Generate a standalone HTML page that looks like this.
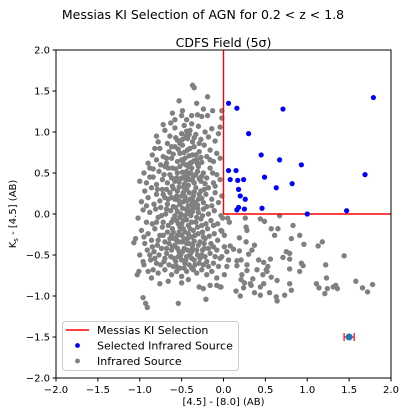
<!DOCTYPE html>
<html><head><meta charset="utf-8"><style>
body{margin:0;background:#fff;font-family:"Liberation Sans","DejaVu Sans",sans-serif}
svg text{font-family:"DejaVu Sans","Liberation Sans",sans-serif}
</style></head><body>
<svg id="chart" width="406" height="414" xmlns="http://www.w3.org/2000/svg"></svg>
<script>
const xTicks=[-2,-1.5,-1,-0.5,0,0.5,1,1.5,2];
const yTicks=[-2,-1.5,-1,-0.5,0,0.5,1,1.5,2];
const xTickLabels=["\u22122.0","\u22121.5","\u22121.0","\u22120.5","0.0","0.5","1.0","1.5","2.0"];
const yTickLabels=["\u22122.0","\u22121.5","\u22121.0","\u22120.5","0.0","0.5","1.0","1.5","2.0"];
const selX=[0.06,0.16,0.71,1.79,0.30,0.45,0.67,0.93,1.69,0.06,0.15,0.08,0.17,0.24,0.49,0.82,0.63,0.18,0.20,0.26,0.16,0.18,0.25,0.46,1.47,1.00];
const selY=[1.35,1.29,1.28,1.42,0.98,0.72,0.66,0.60,0.48,0.53,0.53,0.42,0.41,0.42,0.45,0.37,0.32,0.30,0.22,0.18,0.05,0.08,0.06,0.07,0.04,0.00];
const grayPts=[
[-0.01,-0.05],[0.05,-0.05],[0.07,-0.10],[0.26,-0.05],[0.44,-0.06],[0.49,-0.09],[0.67,-0.02],[0.27,-0.16],[0.28,-0.20],[0.57,-0.18],[0.65,-0.18],[0.83,-0.14],[-0.02,-0.21],[0.01,-0.26],[0.19,-0.29],[0.61,-0.26],[0.81,-0.30],[0.91,-0.26],[0.96,-0.37],[0.27,-0.34],[0.37,-0.38],[1.13,-0.39],[1.18,-0.34],[0.01,-0.40],[0.08,-0.39],[0.12,-0.43],[0.04,-0.46],[0.19,-0.45],[0.34,-0.44],[0.30,-0.49],[0.75,-0.46],[0.79,-0.48],[0.71,-0.53],[0.79,-0.55],[0.56,-0.55],[1.44,-0.51],[-0.02,-0.52],[0.06,-0.56],[0.16,-0.57],[0.21,-0.56],[0.42,-0.56],[0.48,-0.59],[0.28,-0.62],[0.16,-0.63],[0.04,-0.64],[0.53,-0.64],[0.93,-0.60],[0.95,-0.63],[1.22,-0.62],[0.79,-0.67],[0.91,-0.70],[0.28,-0.69],[0.40,-0.68],[0.51,-0.68],[0.52,-0.70],[0.22,-0.74],[0.47,-0.74],[0.01,-0.74],[0.35,-0.79],[0.57,-0.77],[0.64,-0.81],[1.23,-0.78],[0.21,-0.80],[0.25,-0.84],[0.32,-0.85],[0.48,-0.85],[0.79,-0.85],[1.11,-0.85],[1.14,-0.90],[1.31,-0.89],[1.34,-0.87],[1.36,-0.91],[1.24,-0.91],[1.21,-0.97],[-0.03,-0.89],[0.15,-0.94],[0.24,-0.90],[0.33,-0.87],[0.44,-0.89],[0.37,-0.96],[0.44,-0.99],[0.55,-0.96],[0.20,-1.00],[0.81,-0.93],[0.73,-0.99],[0.63,-1.01],[0.64,-1.06],[1.58,-0.82],[1.66,-0.90],[1.72,-0.95],[1.78,-0.86],
[-0.93,-1.09],[-0.91,-1.14],[-0.54,-1.09],[-1.07,-0.35],[-0.96,-0.58],[-1.01,-0.70],[-1.03,-0.74],[-0.86,-0.78],[-0.76,-0.85],[-0.96,-1.02],[-0.21,-1.04],[-0.29,-0.89],[-0.24,-0.91],[-0.50,-0.84],[-0.16,-0.87],[-0.08,-0.87],[-0.04,-0.89],
[-0.37,1.57],[-0.35,1.54],[-0.19,1.43],[-0.53,1.38],[-0.32,1.35],[-0.24,1.28],[-0.13,1.26],[-0.61,1.23],[-0.49,1.26],[-0.02,1.26],[-0.38,1.20],[-0.31,1.21],[-0.26,1.19],[-0.19,1.20],[-0.72,1.09],[-0.63,1.11],[-0.80,0.95],[-0.02,1.17],[-0.04,1.06],
[-0.78,0.88],[-0.70,1.02],[-0.64,0.95],[-0.58,1.05],[-0.55,0.90],[-0.50,0.98],[-0.47,1.08],[-0.43,0.92],[-0.40,1.02],[-0.37,0.88],[-0.33,0.97],[-0.30,1.07],[-0.27,0.91],[-0.22,1.00],[-0.18,0.94],[-0.14,1.04],[-0.10,0.89],[-0.06,0.98],[-0.52,0.86],[-0.45,0.95],
[-0.90,0.62],[-0.85,0.72],[-0.80,0.66],[-0.76,0.80],[-0.72,0.70],[-0.68,0.62],[-0.65,0.76],[-0.62,0.68],[-0.58,0.82],[-0.55,0.64],[-0.52,0.74],[-0.49,0.84],[-0.46,0.68],[-0.43,0.78],[-0.40,0.62],[-0.37,0.72],[-0.35,0.82],[-0.32,0.66],[-0.29,0.76],[-0.26,0.63],[-0.23,0.84],[-0.20,0.70],[-0.16,0.78],[-0.12,0.64],[-0.08,0.74],[-0.04,0.68],[-0.45,0.60],[-0.40,0.80],[-0.50,0.66],[-0.35,0.65],
[-1.00,0.40],[-0.95,0.50],[-0.92,0.38],[-0.88,0.56],[-0.84,0.45],[-0.80,0.36],[-0.77,0.52],[-0.73,0.42],[-0.70,0.58],[-0.67,0.38],[-0.64,0.48],[-0.61,0.56],[-0.58,0.40],[-0.55,0.50],[-0.52,0.58],[-0.50,0.44],[-0.47,0.36],[-0.44,0.52],[-0.41,0.42],[-0.38,0.56],[-0.35,0.38],[-0.33,0.48],[-0.30,0.58],[-0.27,0.40],[-0.24,0.50],[-0.20,0.44],[-0.16,0.56],[-0.12,0.38],[-0.08,0.48],[-0.04,0.42],[-0.56,0.44],[-0.46,0.46],[-0.42,0.58],[-0.36,0.46],[-0.62,0.44],
[-0.98,0.15],[-0.94,0.28],[-0.90,0.20],[-0.86,0.32],[-0.83,0.12],[-0.80,0.24],[-0.76,0.16],[-0.73,0.30],[-0.70,0.20],[-0.67,0.12],[-0.64,0.26],[-0.61,0.34],[-0.58,0.18],[-0.55,0.28],[-0.52,0.12],[-0.50,0.22],[-0.47,0.32],[-0.44,0.16],[-0.41,0.26],[-0.38,0.12],[-0.36,0.22],[-0.33,0.32],[-0.30,0.18],[-0.27,0.28],[-0.24,0.14],[-0.21,0.24],[-0.18,0.32],[-0.14,0.18],[-0.10,0.26],[-0.06,0.14],[-0.02,0.22],[-0.48,0.26],[-0.44,0.30],[-0.40,0.18],[-0.56,0.22],[-0.62,0.20],[-0.34,0.14],
[-1.02,-0.05],[-0.96,0.05],[-0.92,-0.10],[-0.88,0.02],[-0.85,-0.12],[-0.81,0.06],[-0.78,-0.04],[-0.75,0.08],[-0.72,-0.10],[-0.69,0.00],[-0.66,-0.14],[-0.63,0.04],[-0.60,-0.06],[-0.57,0.08],[-0.54,-0.12],[-0.51,0.00],[-0.48,-0.08],[-0.45,0.06],[-0.42,-0.14],[-0.39,-0.02],[-0.36,0.08],[-0.33,-0.10],[-0.30,0.02],[-0.27,-0.06],[-0.24,0.06],[-0.21,-0.12],[-0.18,0.00],[-0.15,-0.08],[-0.11,0.04],[-0.07,-0.12],[-0.03,-0.02],[-0.46,-0.02],[-0.40,0.04],[-0.52,-0.04],[-0.58,-0.02],
[-1.05,-0.30],[-0.98,-0.20],[-0.94,-0.36],[-0.90,-0.24],[-0.86,-0.32],[-0.82,-0.18],[-0.79,-0.38],[-0.76,-0.26],[-0.73,-0.16],[-0.70,-0.34],[-0.67,-0.22],[-0.64,-0.30],[-0.61,-0.18],[-0.58,-0.38],[-0.55,-0.26],[-0.52,-0.16],[-0.49,-0.34],[-0.46,-0.22],[-0.43,-0.30],[-0.40,-0.18],[-0.37,-0.38],[-0.34,-0.26],[-0.31,-0.16],[-0.28,-0.34],[-0.25,-0.22],[-0.22,-0.30],[-0.19,-0.18],[-0.15,-0.36],[-0.11,-0.24],[-0.07,-0.32],[-0.03,-0.20],[-0.50,-0.26],[-0.44,-0.36],[-0.38,-0.28],[-0.56,-0.32],[-0.62,-0.26],
[-1.00,-0.50],[-0.95,-0.62],[-0.91,-0.44],[-0.87,-0.56],[-0.83,-0.46],[-0.80,-0.60],[-0.77,-0.50],[-0.74,-0.42],[-0.71,-0.58],[-0.68,-0.48],[-0.65,-0.62],[-0.62,-0.44],[-0.59,-0.54],[-0.56,-0.64],[-0.53,-0.46],[-0.50,-0.56],[-0.47,-0.42],[-0.44,-0.52],[-0.41,-0.62],[-0.38,-0.46],[-0.35,-0.56],[-0.32,-0.44],[-0.29,-0.60],[-0.26,-0.50],[-0.23,-0.42],[-0.20,-0.58],[-0.16,-0.48],[-0.12,-0.60],[-0.08,-0.44],[-0.04,-0.54],[-0.46,-0.60],[-0.54,-0.52],[-0.38,-0.54],
[-0.90,-0.70],[-0.84,-0.68],[-0.78,-0.72],[-0.70,-0.68],[-0.62,-0.74],[-0.56,-0.70],[-0.50,-0.76],[-0.44,-0.70],[-0.38,-0.66],[-0.32,-0.72],[-0.26,-0.68],[-0.20,-0.74],[-0.14,-0.70],[-0.08,-0.78],[-0.66,-0.82],[-0.42,-0.80]
];
const grayCore=[
[-0.57,0.93],[-0.49,0.91],[-0.41,0.97],[-0.35,0.93],[-0.29,0.86],[-0.44,1.01],[-0.38,1.10],[-0.60,0.73],[-0.54,0.79],[-0.47,0.75],[-0.41,0.71],[-0.33,0.72],[-0.27,0.69],[-0.48,0.62],[-0.38,0.63],[-0.31,0.61],[-0.57,0.55],[-0.49,0.51],[-0.43,0.47],[-0.39,0.50],[-0.31,0.52],[-0.26,0.46],[-0.53,0.39],[-0.45,0.41],[-0.37,0.41],[-0.29,0.43],[-0.22,0.37],[-0.60,0.31],[-0.53,0.33],[-0.46,0.21],[-0.42,0.35],[-0.35,0.27],[-0.29,0.24],[-0.23,0.30],[-0.54,0.17],[-0.48,0.15],[-0.42,0.10],[-0.37,0.17],[-0.31,0.11],[-0.26,0.19],[-0.60,0.09],[-0.55,0.03],[-0.49,0.07],[-0.43,0.01],[-0.37,0.03],[-0.31,0.07],[-0.25,-0.02],[-0.20,0.09],[-0.62,-0.10],[-0.56,-0.08],[-0.50,-0.12],[-0.44,-0.07],[-0.38,-0.10],[-0.32,-0.04],[-0.26,-0.14],[-0.60,-0.22],[-0.53,-0.22],[-0.48,-0.18],[-0.42,-0.24],[-0.36,-0.20],[-0.30,-0.24],[-0.24,-0.28],[-0.65,-0.36],[-0.59,-0.30],[-0.53,-0.34],[-0.47,-0.30],[-0.41,-0.36],[-0.35,-0.33],[-0.30,-0.38],[-0.23,-0.36],[-0.68,-0.42],[-0.61,-0.40],[-0.55,-0.42],[-0.49,-0.46],[-0.43,-0.44],[-0.37,-0.42],[-0.31,-0.50],[-0.25,-0.44],[-0.63,-0.52],[-0.57,-0.58],[-0.51,-0.50],[-0.45,-0.56],[-0.40,-0.50],[-0.34,-0.62],[-0.28,-0.54],[-0.22,-0.52],[-0.70,-0.54],[-0.60,-0.64],[-0.52,-0.66],[-0.47,-0.66],[-0.36,-0.68],[-0.24,-0.62],[-0.75,-0.62],[-0.82,-0.54],[-0.85,-0.40],[-0.78,-0.32],[-0.72,-0.26],[-0.80,-0.10],[-0.74,-0.02],[-0.68,0.06],[-0.66,0.18],[-0.72,0.24],[-0.79,0.30],[-0.68,0.30],[-0.71,0.48],[-0.66,0.56],[-0.75,0.60],[-0.68,0.68],[-0.62,0.82],[-0.67,0.86],[-0.16,0.66],[-0.13,0.50],[-0.10,0.34],[-0.14,0.10],[-0.12,-0.14],[-0.17,-0.27],[-0.12,-0.40],[-0.18,-0.42],[-0.10,-0.52],[-0.18,-0.64],[-0.06,-0.64],[-0.88,0.45],[-0.92,0.10],[-0.95,-0.28],[-0.88,-0.50],[-0.84,0.55],[-0.82,0.80],[-0.58,1.15],[-0.44,1.15],[-0.50,1.20]
];
const errPoint=[1.5,-1.5];
const errX=[0.06];

const L=56,R=391,T=50,B=378;
const sx=v=>L+(v+2)/4*(R-L);
const sy=v=>B-(v+2)/4*(B-T);
const svg=document.getElementById('chart');
const NS='http://www.w3.org/2000/svg';
function mk(tag,attrs,parent){const e=document.createElementNS(NS,tag);for(const k in attrs)e.setAttribute(k,attrs[k]);(parent||svg).appendChild(e);return e;}

const title=mk('text',{x:203,y:19,'text-anchor':'middle','font-size':12.5});title.textContent='Messias KI Selection of AGN for 0.2 < z < 1.8';


const sub=mk('text',{x:223.5,y:47,'text-anchor':'middle','font-size':12.5});sub.textContent='CDFS Field (5\u03C3)';



const clip=mk('clipPath',{id:'cp'});mk('rect',{x:L,y:T,width:R-L,height:B-T},clip);
const plot=mk('g',{'clip-path':'url(#cp)'});



grayPts.concat(grayCore).forEach(p=>{const c=mk('circle',{cx:sx(p[0]),cy:sy(p[1]),r:2.7,fill:'#808080'},plot);

});
const l1=mk('line',{x1:sx(0),y1:sy(0),x2:sx(0),y2:sy(2),stroke:'#ff0000','stroke-width':1.4},plot);


const l2=mk('line',{x1:sx(0),y1:sy(0),x2:sx(2),y2:sy(0),stroke:'#ff0000','stroke-width':1.4},plot);


selX.forEach((x,i)=>{const c=mk('circle',{cx:sx(x),cy:sy(selY[i]),r:2.6,fill:'#0000ff'},plot);

});
const eg=mk('g',{});


const ex=sx(errPoint[0]),ey=sy(errPoint[1]);
mk('line',{x1:sx(errPoint[0]-errX[0]),y1:ey,x2:sx(errPoint[0]+errX[0]),y2:ey,stroke:'#ff0000','stroke-width':1.2},eg);
mk('line',{x1:sx(errPoint[0]-errX[0]),y1:ey-4,x2:sx(errPoint[0]-errX[0]),y2:ey+4,stroke:'#ff0000','stroke-width':1.2},eg);
mk('line',{x1:sx(errPoint[0]+errX[0]),y1:ey-4,x2:sx(errPoint[0]+errX[0]),y2:ey+4,stroke:'#ff0000','stroke-width':1.2},eg);
mk('circle',{cx:ex,cy:ey,r:3.5,fill:'#1f77b4'},eg);

const fr=mk('rect',{x:L,y:T,width:R-L,height:B-T,fill:'none',stroke:'#000','stroke-width':1});


xTicks.forEach((t,i)=>{mk('line',{x1:sx(t),y1:B,x2:sx(t),y2:B+3.5,stroke:'#000'});
const tx=mk('text',{x:sx(t),y:B+15,'text-anchor':'middle','font-size':10});tx.textContent=xTickLabels[i];

});
yTicks.forEach((t,i)=>{mk('line',{x1:L-3.5,y1:sy(t),x2:L,y2:sy(t),stroke:'#000'});
const tx=mk('text',{x:L-6,y:sy(t)+3.5,'text-anchor':'end','font-size':10});tx.textContent=yTickLabels[i];

});
const xl=mk('text',{x:223.5,y:405,'text-anchor':'middle','font-size':10});xl.textContent='[4.5] - [8.0] (AB)';


const yl=mk('text',{x:0,y:0,'text-anchor':'middle','font-size':10,transform:'translate(16,214) rotate(-90)'});
yl.innerHTML='<tspan>K</tspan><tspan font-size="7" dy="2">s</tspan><tspan dy="-2"> - [4.5] (AB)</tspan>';



const lg=mk('g',{});


mk('rect',{x:62.5,y:321.5,width:176,height:49,rx:3,fill:'#fff','fill-opacity':0.85,stroke:'#ccc'},lg);
mk('line',{x1:66,y1:330,x2:89,y2:330,stroke:'#ff0000','stroke-width':1.5},lg);
mk('circle',{cx:77.5,cy:345.5,r:2.4,fill:'#0000ff'},lg);
mk('circle',{cx:77.5,cy:361,r:2.4,fill:'#808080'},lg);
[['Messias KI Selection',334],['Selected Infrared Source',349.5],['Infrared Source',365]].forEach(a=>{
const t=mk('text',{x:97,y:a[1],'font-size':11},lg);t.textContent=a[0];

});
</script>
</body></html>
